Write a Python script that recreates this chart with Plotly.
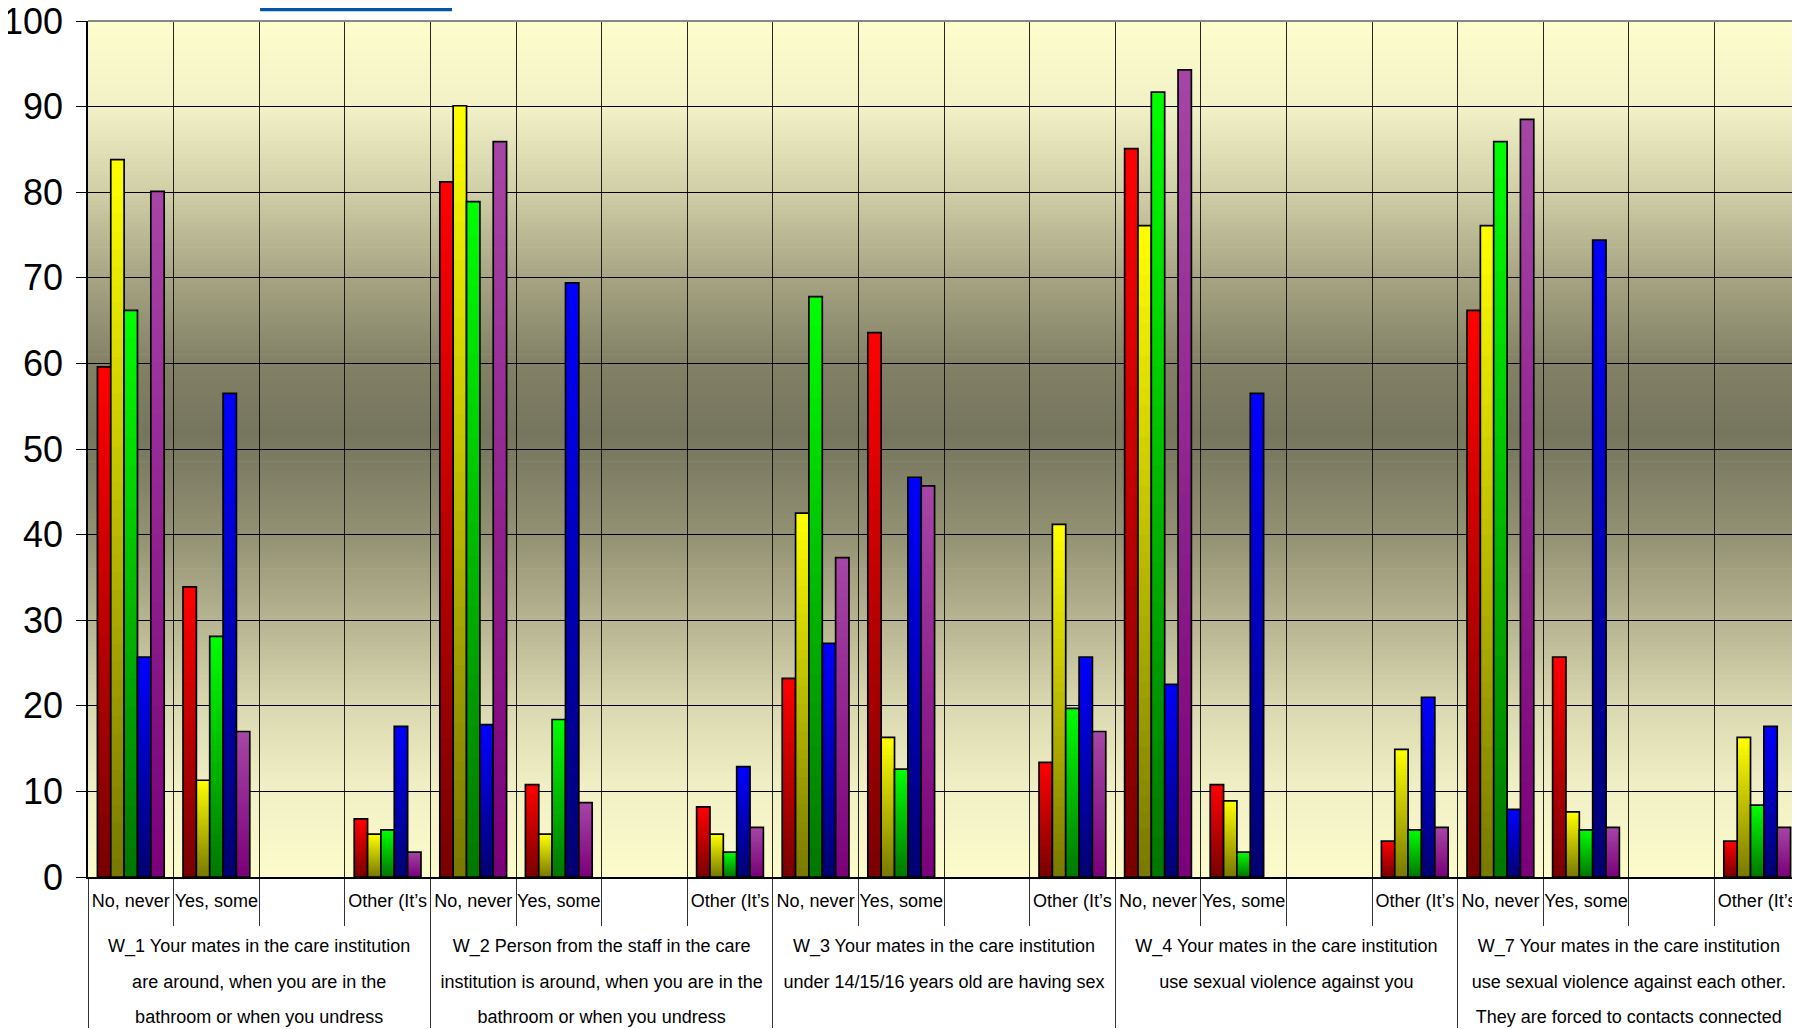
import plotly.graph_objects as go

# ---------------- data ----------------
questions = [
    ["W_1 Your mates in the care institution", "are around, when you are in the",
     "bathroom or when you undress"],
    ["W_2 Person from the staff in the care", "institution is around, when you are in the",
     "bathroom or when you undress"],
    ["W_3 Your mates in the care institution", "under 14/15/16 years old are having sex"],
    ["W_4 Your mates in the care institution", "use sexual violence against you"],
    ["W_7 Your mates in the care institution", "use sexual violence against each other.",
     "They are forced to contacts connected"],
]
answers = ["No, never", "Yes, some", "", "Other (It\u2019s"]

series_names = ["Series 1", "Series 2", "Series 3", "Series 4", "Series 5"]

# values in question-major order (4 answers per question); None = no bar
series_red = [59.6, 33.9, None, 6.8, 81.2, 10.8, None, 8.2, 23.2, 63.6, None, 13.4,
              85.1, 10.8, None, 4.2, 66.2, 25.7, None, 4.2]
series_yellow = [83.8, 11.3, None, 5.0, 90.1, 5.0, None, 5.0, 42.5, 16.3, None, 41.2,
                 76.1, 8.9, None, 14.9, 76.1, 7.6, None, 16.3]
series_green = [66.2, 28.1, None, 5.5, 78.9, 18.4, None, 2.9, 67.8, 12.6, None, 19.7,
                91.7, 2.9, None, 5.5, 85.9, 5.5, None, 8.4]
series_blue = [25.7, 56.5, None, 17.6, 17.8, 69.4, None, 12.9, 27.3, 46.7, None, 25.7,
               22.5, 56.5, None, 21.0, 7.9, 74.4, None, 17.6]
series_purple = [80.1, 17.0, None, 2.9, 85.9, 8.7, None, 5.8, 37.3, 45.7, None, 17.0,
                 94.3, 0, None, 5.8, 88.5, 5.8, None, 5.8]

y_ticks = list(range(0, 101, 10))

# ---------------- styles ----------------
FONT = "Liberation Sans Narrow, Arial Narrow, Liberation Sans, Arial, sans-serif"
LBL = 18          # visible size of x labels
SPACER = 35       # invisible spacer that widens the gap between label levels
series_values = [series_red, series_yellow, series_green, series_blue, series_purple]
bright = [(255, 0, 0), (255, 255, 0), (0, 255, 0), (0, 0, 255), (166, 70, 166)]
dark = [(120, 0, 0), (120, 120, 0), (0, 118, 0), (0, 0, 112), (122, 0, 122)]


def span(t, size=LBL):
    return "<span style='font-size:%dpx'>%s</span>" % (size, t)


q_labels = ["<br>".join(span(line) for line in q) for q in questions]
a_labels = ["<br>" + (span(a) if a else span("\u00a0", SPACER)) for a in answers]

xg = [q for q in q_labels for a in a_labels]
xs = [a for q in q_labels for a in a_labels]

fig = go.Figure()

K = 40
group_w = 0.78
bw = group_w / len(series_values)

for s, vals in enumerate(series_values):
    clean = [v if (v is not None and v > 0) else None for v in vals]
    off = -group_w / 2 + s * bw
    for k in range(K):
        frac = 1 - (k + 0.5) / K
        c = tuple(int(round(dark[s][i] + (bright[s][i] - dark[s][i]) * frac)) for i in range(3))
        scale = 1 - k / K
        fig.add_trace(go.Bar(
            x=[xg, xs], y=[v * scale if v is not None else None for v in clean],
            width=bw, offset=off,
            marker=dict(color="rgb(%d,%d,%d)" % c, line=dict(width=0)),
            showlegend=False, hoverinfo="skip", name=series_names[s]))
    fig.add_trace(go.Bar(
        x=[xg, xs], y=clean, width=bw, offset=off, name=series_names[s],
        marker=dict(color="rgba(0,0,0,0)", line=dict(color="black", width=1.7)),
        showlegend=False))

# background gradient (value -> colour)
bg_stops = [
    (0, (252, 252, 204)), (10, (242, 240, 198)), (20, (218, 216, 176)),
    (30, (182, 180, 145)), (40, (146, 145, 115)), (50, (121, 121, 97)),
    (52, (118, 118, 95)), (60, (130, 129, 102)), (70, (166, 164, 131)),
    (80, (208, 206, 166)), (90, (243, 241, 199)), (100, (253, 253, 205)),
]


def bg_col(v):
    for (a, ca), (b, cb) in zip(bg_stops[:-1], bg_stops[1:]):
        if a <= v <= b:
            t = (v - a) / (b - a)
            return tuple(int(round(ca[i] + (cb[i] - ca[i]) * t)) for i in range(3))
    return bg_stops[-1][1]


shapes = []
step = 0.5
n = int(100 / step)
for i in range(n):
    y0 = i * step
    c = bg_col(y0 + step / 2)
    shapes.append(dict(type="rect", xref="paper", yref="y", x0=0, x1=1,
                       y0=y0, y1=min(100, y0 + step + 0.08),
                       fillcolor="rgb(%d,%d,%d)" % c, line=dict(width=0),
                       layer="below"))
# top frame line
shapes.append(dict(type="line", xref="paper", yref="paper", x0=0, x1=1, y0=1, y1=1,
                   line=dict(color="#888888", width=2), layer="above"))
# cut-off legend fragment at the very top
shapes.append(dict(type="rect", xref="paper", yref="paper", x0=0.1005, x1=0.2126,
                   y0=1.0115, y1=1.02, fillcolor="#0055A5", line=dict(width=0)))

fig.update_layout(
    width=1792, height=1021,
    margin=dict(l=80, r=0, t=13, b=152, autoexpand=False),
    paper_bgcolor="white", plot_bgcolor="#FCFCCC",
    barmode="overlay",
    showlegend=False,
    shapes=shapes,
    font=dict(family=FONT, color="black"),
    xaxis=dict(
        type="multicategory", range=[-0.5, 19.5], tickson="boundaries",
        ticks="outside", ticklen=47, tickcolor="#333333", tickwidth=1,
        showgrid=True, gridcolor="rgba(0,0,0,0.85)", gridwidth=1,
        showline=True, linecolor="black", linewidth=2,
        showdividers=True, dividercolor="#333333", dividerwidth=1,
        tickfont=dict(size=27, family=FONT, color="black"), tickangle=0,
        ticklabelstandoff=-40, ticklabeloverflow="allow", automargin=False,
    ),
    yaxis=dict(
        range=[0, 100], tickvals=y_ticks, ticks="outside", ticklen=10,
        tickcolor="black", tickwidth=1, showline=True, linecolor="black",
        linewidth=1.5, showgrid=True, gridcolor="black", gridwidth=1,
        zeroline=False, tickfont=dict(size=36, family=FONT, color="black"),
        ticklabelstandoff=6, ticklabeloverflow="allow", automargin=False,
    ),
)

fig.write_html("out.html")
